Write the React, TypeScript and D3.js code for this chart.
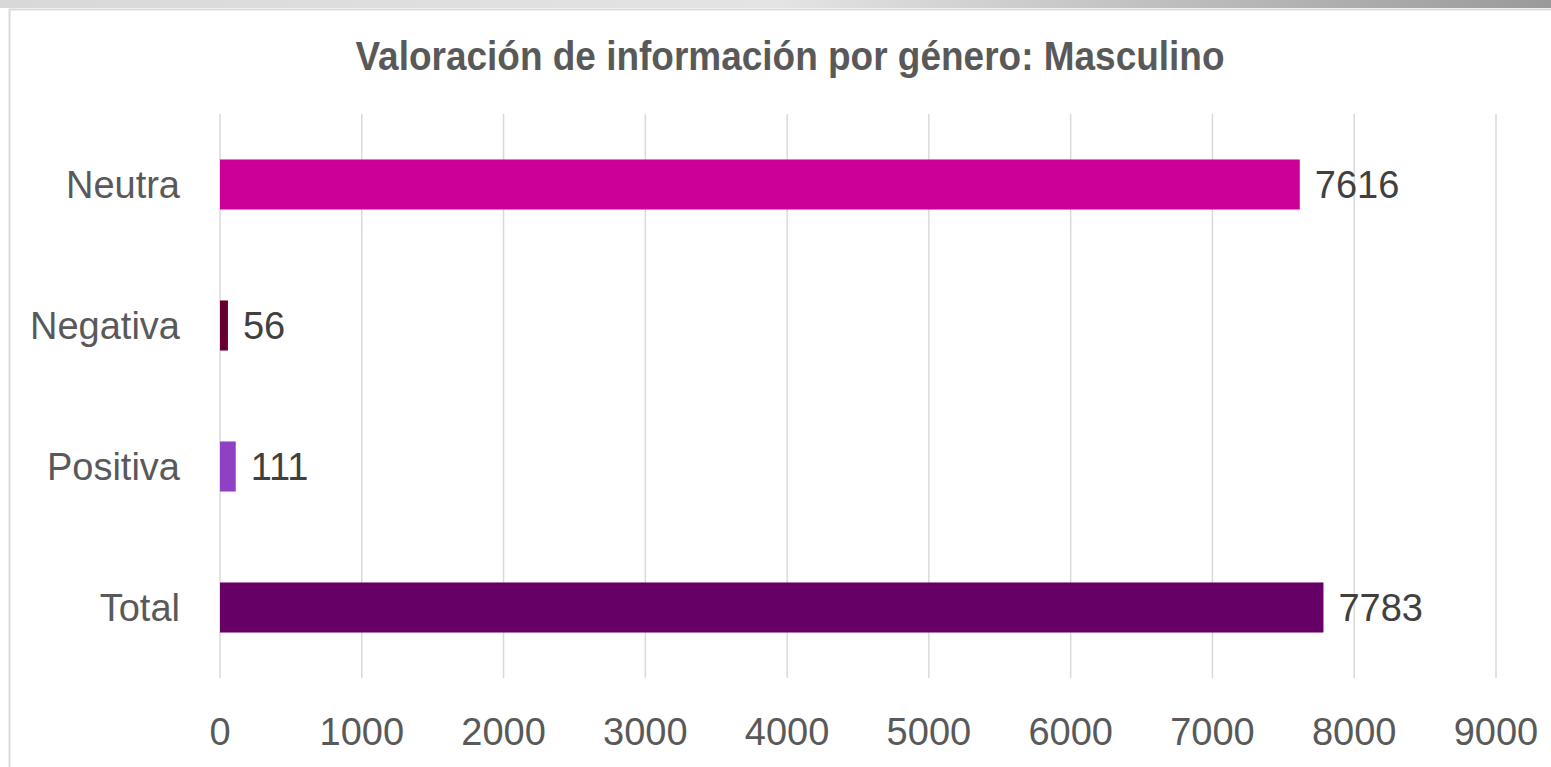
import * as d3 from 'd3';
import { useEffect, useRef } from 'react';

const categories = ['Neutra', 'Negativa', 'Positiva', 'Total'];
const values = [7616, 56, 111, 7783];
const colors = ['#cc0099', '#660033', '#8f40c4', '#660066'];
const xTicks = [0, 1000, 2000, 3000, 4000, 5000, 6000, 7000, 8000, 9000];
const title = 'Valoración de información por género: Masculino';

const W = 1551;
const H = 767;

export default function App() {
	const chartRef = useRef<SVGSVGElement>(null);

	useEffect(() => {
		const svg = d3.select(chartRef.current);
		svg.selectAll('*').remove();

		const font = '"Liberation Sans", Arial, sans-serif';
		const textColor = '#595959';

		// рамка и тень сверху
		const defs = svg.append('defs');
		const grad = defs
			.append('linearGradient')
			.attr('id', 'topShadow')
			.attr('x1', 0)
			.attr('x2', 1)
			.attr('y1', 0)
			.attr('y2', 0);
		grad.append('stop').attr('offset', '0%').attr('stop-color', '#d8d8d8');
		grad.append('stop').attr('offset', '50%').attr('stop-color', '#e4e4e4');
		grad.append('stop').attr('offset', '100%').attr('stop-color', '#9a9a9a');

		svg.append('rect').attr('width', W).attr('height', H).attr('fill', '#ffffff');
		svg.append('rect').attr('x', 0).attr('y', 0).attr('width', W).attr('height', 8).attr('fill', 'url(#topShadow)');
		svg
			.append('rect')
			.attr('x', 9.5)
			.attr('y', 9.5)
			.attr('width', W)
			.attr('height', H)
			.attr('fill', '#ffffff')
			.attr('stroke', '#d9d9d9')
			.attr('stroke-width', 2);

		// шкалы
		const x = d3.scaleLinear().domain([0, 9000]).range([220, 1496]);
		const y = d3
			.scaleBand()
			.domain(categories)
			.range([114, 678])
			.paddingInner(0.645)
			.paddingOuter(0.3225);

		// сетка
		svg
			.append('g')
			.selectAll('line')
			.data(xTicks)
			.enter()
			.append('line')
			.attr('x1', (d) => x(d))
			.attr('x2', (d) => x(d))
			.attr('y1', 114)
			.attr('y2', 678)
			.attr('stroke', '#d9d9d9')
			.attr('stroke-width', 1.5);

		// подписи оси X
		svg
			.append('g')
			.selectAll('text')
			.data(xTicks)
			.enter()
			.append('text')
			.attr('x', (d) => x(d))
			.attr('y', 745)
			.attr('text-anchor', 'middle')
			.style('font-family', font)
			.style('font-size', '38px')
			.style('fill', textColor)
			.text((d) => d);

		// подписи категорий
		svg
			.append('g')
			.selectAll('text')
			.data(categories)
			.enter()
			.append('text')
			.attr('x', 180)
			.attr('y', (d) => y(d)! + y.bandwidth() / 2)
			.attr('dy', '0.35em')
			.attr('text-anchor', 'end')
			.style('font-family', font)
			.style('font-size', '38px')
			.style('fill', textColor)
			.text((d) => d);

		const rows = categories.map((c, i) => ({ cat: c, value: values[i], color: colors[i] }));

		// столбцы
		svg
			.append('g')
			.selectAll('rect')
			.data(rows)
			.enter()
			.append('rect')
			.attr('x', x(0))
			.attr('y', (d) => y(d.cat)!)
			.attr('width', (d) => x(d.value) - x(0))
			.attr('height', y.bandwidth())
			.attr('fill', (d) => d.color);

		// значения
		svg
			.append('g')
			.selectAll('text')
			.data(rows)
			.enter()
			.append('text')
			.attr('x', (d) => x(d.value) + 15)
			.attr('y', (d) => y(d.cat)! + y.bandwidth() / 2)
			.attr('dy', '0.35em')
			.style('font-family', font)
			.style('font-size', '38px')
			.style('fill', '#404040')
			.text((d) => d.value);

		// заголовок
		svg
			.append('text')
			.attr('x', 790)
			.attr('y', 70)
			.attr('text-anchor', 'middle')
			.attr('textLength', 869)
			.attr('lengthAdjust', 'spacingAndGlyphs')
			.style('font-family', font)
			.style('font-size', '40px')
			.style('font-weight', 'bold')
			.style('fill', textColor)
			.text(title);
	}, []);

	return (
		<svg
			ref={chartRef}
			width={W}
			height={H}
			style={{ position: 'absolute', top: 0, left: 0, display: 'block' }}
		></svg>
	);
}
